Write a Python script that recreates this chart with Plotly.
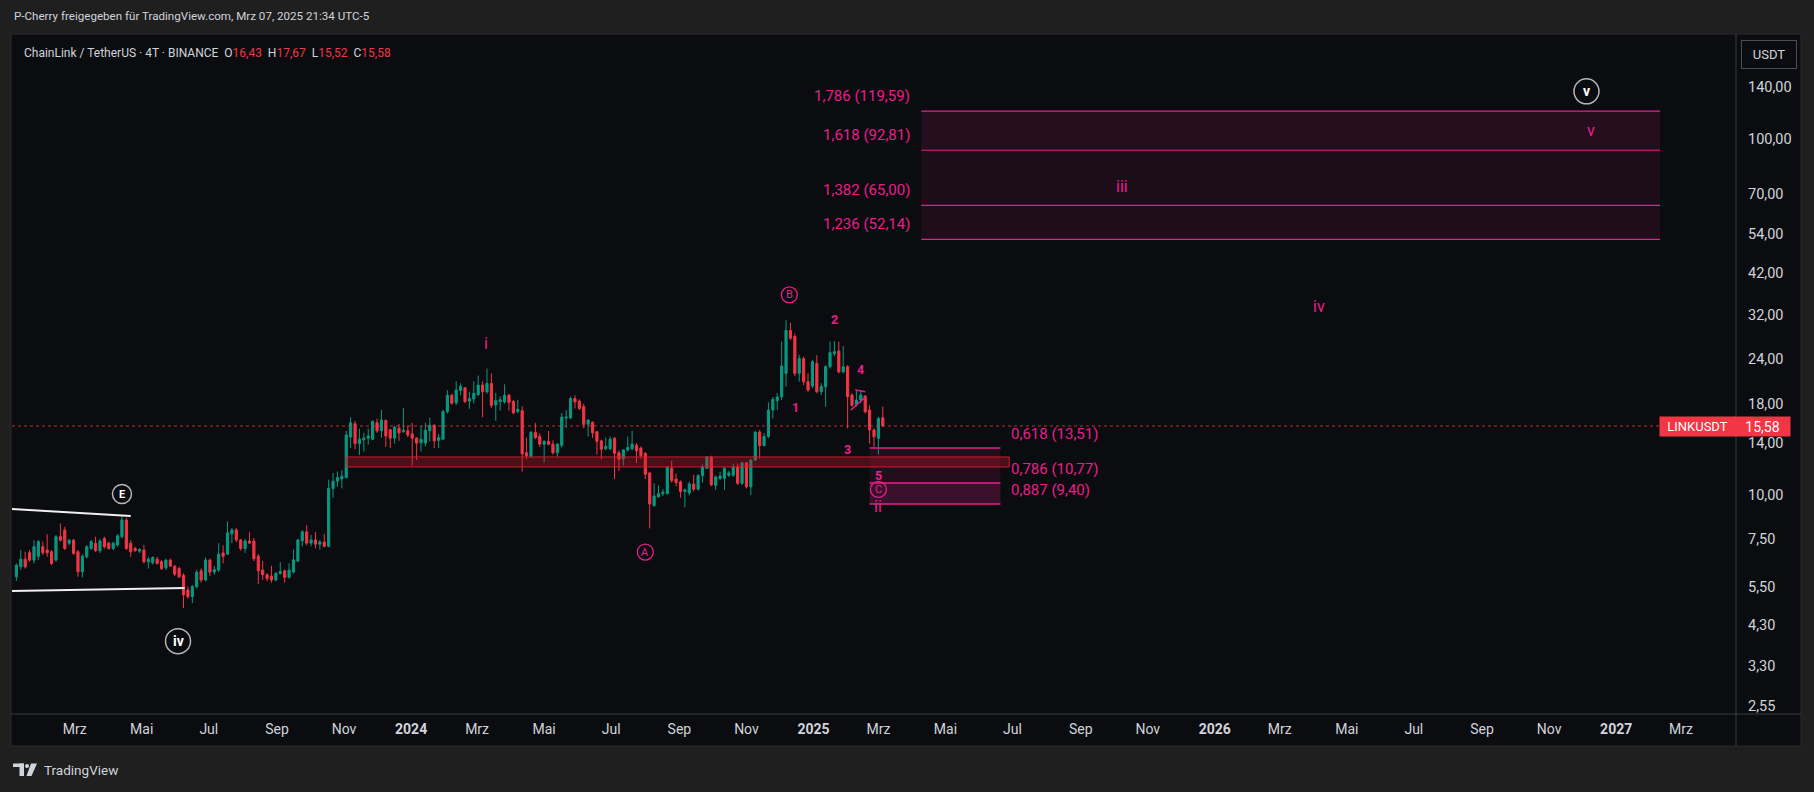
import math
import pandas as pd
import plotly.graph_objects as go

# ---------------- data (4-day candles, LINK/USDT) ----------------
opens = [
    5.87, 6.26, 6.58, 6.86, 6.54, 6.70, 7.13, 6.98, 6.90, 6.54,
    7.61, 7.94, 7.29, 7.44, 6.90, 6.06, 6.68, 7.05, 7.29, 6.95,
    7.52, 7.29, 7.05, 7.21, 7.61, 8.48, 7.29, 7.05, 6.93, 6.98,
    6.47, 6.43, 6.58, 6.47, 6.22, 6.54, 6.29, 6.19, 5.93, 5.39,
    5.16, 5.50, 6.10, 5.75, 6.54, 6.05, 6.13, 6.85, 6.80, 7.75,
    7.95, 7.45, 7.05, 7.40, 7.40, 6.70, 6.13, 5.95, 5.90, 5.75,
    6.00, 6.10, 5.85, 6.05, 6.50, 7.40, 7.85, 7.30, 7.45, 7.25,
    7.35, 7.15, 10.40, 10.90, 11.05, 11.15, 14.50, 15.80, 13.90, 14.25,
    14.40, 14.30, 15.90, 15.10, 16.15, 15.20, 14.40, 15.35, 15.00, 15.10,
    14.80, 14.40, 13.98, 13.95, 15.10, 15.65, 14.20, 14.30, 17.10, 19.00,
    18.10, 19.60, 19.95, 18.30, 18.55, 19.10, 20.30, 19.45, 20.50, 17.85,
    18.25, 18.20, 19.00, 18.25, 17.10, 17.20, 13.10, 12.80, 14.95, 14.55,
    13.85, 14.10, 13.85, 13.10, 13.75, 16.40, 16.40, 18.60, 18.30, 17.65,
    15.75, 15.95, 15.00, 14.15, 13.45, 13.45, 14.40, 13.10, 12.60, 13.34,
    13.45, 13.75, 13.50, 13.05, 11.50, 9.30, 9.85, 10.05, 10.05, 11.85,
    11.05, 10.85, 10.20, 10.10, 10.70, 10.35, 11.30, 11.85, 12.75, 10.60,
    11.10, 11.10, 11.33, 11.33, 11.96, 10.75, 12.27, 10.51, 12.50, 14.98,
    13.72, 14.55, 17.27, 18.35, 18.80, 21.90, 28.90, 27.80, 21.90, 24.10,
    20.75, 20.17, 23.35, 19.45, 20.10, 22.86, 24.85, 25.30, 22.13, 22.86,
    19.03, 17.90, 18.42, 18.90, 17.27, 15.18, 14.38, 16.43,
]
highs = [
    6.40, 6.98, 6.90, 6.98, 7.44, 7.44, 7.37, 7.73, 6.98, 7.69,
    8.29, 8.11, 7.50, 7.50, 6.98, 6.80, 7.20, 7.45, 7.61, 7.50,
    7.61, 7.37, 7.37, 7.73, 8.75, 8.60, 7.44, 7.13, 7.05, 7.21,
    6.68, 6.70, 6.68, 6.54, 6.60, 6.60, 6.33, 6.26, 6.00, 5.51,
    5.56, 6.15, 6.20, 6.65, 6.60, 6.30, 7.30, 7.20, 8.40, 8.05,
    8.05, 7.50, 7.50, 7.85, 7.55, 6.80, 6.50, 6.00, 6.30, 6.05,
    6.45, 6.15, 6.40, 7.00, 7.50, 7.95, 8.20, 7.70, 7.85, 7.45,
    7.75, 11.00, 11.50, 11.60, 11.70, 15.10, 16.50, 16.10, 15.30, 14.90,
    15.30, 16.15, 16.35, 17.30, 16.25, 15.30, 15.60, 15.80, 17.50, 15.65,
    15.90, 14.50, 15.60, 15.90, 16.45, 15.75, 14.80, 17.30, 19.65, 19.20,
    20.80, 20.55, 20.05, 19.45, 20.80, 21.60, 20.80, 22.60, 21.90, 19.30,
    18.90, 20.40, 19.20, 18.45, 18.45, 17.70, 14.45, 15.10, 15.90, 14.85,
    14.20, 15.10, 14.20, 13.95, 16.95, 17.27, 18.85, 19.00, 18.50, 18.00,
    16.25, 16.05, 15.10, 14.25, 14.45, 14.55, 14.50, 13.30, 13.40, 14.55,
    15.10, 13.95, 13.65, 13.15, 11.55, 10.75, 10.60, 10.35, 12.00, 12.45,
    11.45, 10.95, 10.40, 10.85, 11.35, 11.40, 12.15, 12.80, 12.85, 11.30,
    11.57, 11.96, 11.65, 12.22, 12.22, 12.35, 12.35, 12.55, 15.05, 15.18,
    14.88, 18.15, 18.80, 19.30, 26.90, 30.90, 30.40, 28.30, 24.70, 24.40,
    21.90, 23.87, 24.65, 20.55, 23.10, 26.90, 27.00, 26.90, 26.14, 23.10,
    19.25, 19.66, 19.45, 19.03, 17.82, 15.34, 16.54, 17.67,
]
lows = [
    5.72, 6.13, 6.19, 6.47, 6.40, 6.54, 6.76, 6.68, 6.33, 6.47,
    7.37, 6.98, 7.20, 6.76, 5.87, 5.85, 6.60, 6.98, 6.90, 6.85,
    7.05, 7.00, 6.98, 7.13, 7.52, 6.98, 6.68, 6.90, 6.85, 6.40,
    6.19, 6.35, 6.35, 6.13, 6.13, 6.26, 5.90, 5.82, 4.80, 5.10,
    4.95, 5.45, 5.65, 5.70, 5.90, 5.95, 6.05, 6.40, 6.75, 7.30,
    7.35, 6.95, 6.85, 7.25, 6.50, 5.60, 5.75, 5.70, 5.65, 5.70,
    5.95, 5.65, 5.80, 6.00, 6.45, 7.15, 7.20, 7.15, 7.05, 7.00,
    7.10, 7.10, 9.80, 10.50, 10.40, 11.10, 13.50, 13.40, 12.90, 13.20,
    13.80, 14.25, 14.90, 14.45, 13.60, 13.50, 13.90, 14.15, 14.95, 14.50,
    12.05, 12.50, 13.20, 13.65, 14.10, 13.50, 13.50, 14.25, 16.90, 17.90,
    17.85, 19.00, 18.05, 17.40, 18.00, 18.90, 16.50, 19.20, 17.50, 16.10,
    17.20, 18.00, 17.20, 16.80, 16.90, 11.60, 12.55, 12.70, 14.30, 13.60,
    12.30, 13.75, 12.95, 12.75, 13.55, 15.40, 16.30, 17.45, 17.25, 15.35,
    14.55, 14.40, 12.95, 12.55, 13.30, 13.30, 11.05, 11.65, 12.05, 13.20,
    13.30, 12.25, 12.60, 11.05, 8.03, 9.25, 9.80, 9.90, 10.00, 10.80,
    10.55, 9.80, 9.20, 9.95, 10.20, 10.25, 10.80, 11.78, 10.55, 10.30,
    10.98, 10.29, 11.20, 11.21, 10.63, 10.63, 10.40, 9.96, 12.40, 12.63,
    13.65, 14.40, 16.35, 17.27, 18.42, 20.10, 27.19, 21.50, 20.75, 20.30,
    19.45, 19.90, 19.25, 19.05, 17.63, 22.60, 24.50, 21.90, 21.90, 15.34,
    17.63, 17.63, 18.05, 16.90, 13.90, 13.60, 12.95, 15.52,
]
closes = [
    6.33, 6.58, 6.26, 6.54, 7.13, 7.37, 6.86, 6.86, 6.40, 7.61,
    7.44, 7.05, 7.44, 6.83, 6.06, 6.70, 7.13, 7.37, 6.95, 7.40,
    7.13, 7.05, 7.29, 7.65, 8.48, 7.05, 6.90, 6.95, 7.01, 6.47,
    6.58, 6.65, 6.40, 6.19, 6.54, 6.29, 5.97, 5.87, 5.22, 5.16,
    5.51, 6.05, 5.75, 6.54, 6.05, 6.15, 6.80, 6.70, 7.80, 7.95,
    7.45, 7.05, 7.40, 7.30, 6.60, 6.10, 5.95, 5.80, 5.75, 6.00,
    6.07, 5.85, 6.13, 6.55, 7.45, 7.85, 7.30, 7.45, 7.25, 7.35,
    7.15, 10.40, 10.90, 11.15, 11.25, 14.70, 15.90, 13.90, 14.30, 14.40,
    14.60, 16.05, 15.10, 16.19, 14.60, 14.40, 15.45, 14.90, 15.15, 14.70,
    14.40, 13.95, 14.30, 15.15, 15.65, 14.15, 14.45, 17.10, 19.00, 18.05,
    19.65, 20.15, 18.25, 18.60, 19.25, 20.30, 19.45, 20.50, 17.80, 18.35,
    18.45, 19.00, 18.15, 16.95, 17.35, 13.00, 12.85, 14.95, 14.45, 13.85,
    14.10, 13.85, 13.10, 13.85, 16.50, 16.50, 18.60, 18.20, 17.45, 15.75,
    16.19, 14.90, 14.10, 13.40, 13.65, 14.30, 13.05, 12.55, 13.34, 13.55,
    13.85, 13.25, 12.85, 11.40, 9.40, 9.90, 10.05, 10.15, 11.95, 10.95,
    10.80, 10.20, 10.30, 10.70, 10.35, 11.30, 11.95, 12.75, 10.65, 11.20,
    11.26, 11.84, 11.49, 11.96, 10.75, 12.27, 10.51, 12.50, 14.98, 13.72,
    14.55, 17.27, 18.50, 18.80, 22.96, 28.90, 27.50, 21.90, 24.10, 20.75,
    19.66, 23.60, 19.45, 20.10, 22.86, 25.05, 25.20, 22.13, 22.86, 18.82,
    17.82, 18.42, 19.03, 17.08, 15.18, 14.53, 16.36, 15.58,
]
last_candle_date = "2025-03-05"

# Fibonacci extension (targets) and retracement levels
ext_ratios = ["1,786", "1,618", "1,382", "1,236"]
ext_prices = [119.59, 92.81, 65.00, 52.14]
ext_span = ["2025-04-09", "2027-02-10"]
ext_label_date = "2025-04-01"

ret_ratios = ["0,618", "0,786", "0,887"]
ret_prices = [13.51, 10.77, 9.40]
ret_span = ["2025-02-21", "2025-06-20"]
ret_label_date = "2025-06-28"

# support zone
zone_span = ["2023-11-03", "2025-06-28"]
zone_prices = [11.95, 12.75]

# white triangle boundary lines
tri_upper_dates = ["2023-01-03", "2023-04-21"]
tri_upper_prices = [9.10, 8.70]
tri_lower_dates = ["2023-01-03", "2023-06-09"]
tri_lower_prices = [5.35, 5.46]

# small pink triangle near wave 4
small_tri_a_dates = ["2025-02-04", "2025-02-17"]
small_tri_a_prices = [17.28, 18.76]
small_tri_b_dates = ["2025-02-08", "2025-02-17"]
small_tri_b_prices = [19.66, 19.45]

# wave labels (plain, pink)
wave_text = ["i", "iii", "iv", "v", "1", "2", "3", "4", "5", "ii"]
wave_dates = ["2024-03-09", "2025-10-09", "2026-04-06", "2026-12-09", "2024-12-16",
              "2025-01-20", "2025-02-01", "2025-02-13", "2025-03-01", "2025-03-01"]
wave_prices = [26.5, 73.5, 33.7, 105.3, 17.58, 31.1, 13.42, 22.5, 11.31, 9.23]

# circled labels
pink_circ_text = ["A", "B", "C"]
pink_circ_dates = ["2024-08-01", "2024-12-10", "2025-03-01"]
pink_circ_prices = [6.89, 36.4, 10.33]
white_circ_text = ["E", "iv", "v"]
white_circ_dates = ["2023-04-13", "2023-06-03", "2026-12-05"]
white_circ_prices = [10.03, 3.87, 135.9]

# axes
price_ticks = [2.55, 3.3, 4.3, 5.5, 7.5, 10, 14, 18, 24, 32, 42, 54, 70, 100, 140]
time_tick_dates = ["2023-03-01", "2023-05-01", "2023-07-01", "2023-09-01", "2023-11-01",
                   "2024-01-01", "2024-03-01", "2024-05-01", "2024-07-01", "2024-09-01", "2024-11-01",
                   "2025-01-01", "2025-03-01", "2025-05-01", "2025-07-01", "2025-09-01", "2025-11-01",
                   "2026-01-01", "2026-03-01", "2026-05-01", "2026-07-01", "2026-09-01", "2026-11-01",
                   "2027-01-01", "2027-03-01"]
time_tick_labels = ["Mrz", "Mai", "Jul", "Sep", "Nov",
                    "2024", "Mrz", "Mai", "Jul", "Sep", "Nov",
                    "2025", "Mrz", "Mai", "Jul", "Sep", "Nov",
                    "2026", "Mrz", "Mai", "Jul", "Sep", "Nov",
                    "2027", "Mrz"]
x_range = ["2023-01-03", "2027-04-20"]
y_range_prices = [2.415, 195.7]

# ---------------- styling ----------------
UP = "#089981"
DOWN = "#f23645"
PINK = "#e91e8c"
TXT = "#d1d4dc"
PANEL = "#0b0c0f"
OUTER = "#1f1f1f"
SEP = "#2a2b30"
FONT = "Roboto"

W, H = 1814, 792
ML, MR, MT, MB = 12, 78, 35, 78
PW, PH = W - ML - MR, H - MT - MB


def px_x(x):
    return (x - ML) / PW


def px_y(y):
    return (H - MB - y) / PH


def fmt(v):
    return f"{v:.2f}".replace(".", ",")


candle_dates = pd.date_range(end=last_candle_date, periods=len(closes), freq="4D")

fig = go.Figure()


def band(xs, y0, y1, color, line_color=None, line_width=0):
    fig.add_trace(go.Scatter(
        x=[xs[0], xs[1], xs[1], xs[0], xs[0]], y=[y0, y0, y1, y1, y0],
        mode="lines", fill="toself", fillcolor=color,
        line=dict(width=line_width, color=line_color or "rgba(0,0,0,0)"),
        hoverinfo="skip", showlegend=False))


def seg(xs, ys, color, width=1, dash="solid"):
    fig.add_trace(go.Scatter(x=xs, y=ys, mode="lines",
                             line=dict(color=color, width=width, dash=dash),
                             hoverinfo="skip", showlegend=False))


# fib extension bands
ext_fill = ["rgba(233,30,140,0.13)", "rgba(233,30,140,0.08)", "rgba(233,30,140,0.09)"]
for k in range(len(ext_prices) - 1):
    band(ext_span, ext_prices[k], ext_prices[k + 1], ext_fill[k])
# retracement bands
ret_fill = ["rgba(233,30,140,0.10)", "rgba(233,30,140,0.22)"]
for k in range(len(ret_prices) - 1):
    band(ret_span, ret_prices[k], ret_prices[k + 1], ret_fill[k])

# candles
fig.add_trace(go.Candlestick(
    x=candle_dates, open=opens, high=highs, low=lows, close=closes,
    increasing=dict(line=dict(color=UP, width=1), fillcolor=UP),
    decreasing=dict(line=dict(color=DOWN, width=1), fillcolor=DOWN),
    whiskerwidth=0, hoverinfo="skip", showlegend=False))

# support zone
band(zone_span, zone_prices[0], zone_prices[1], "rgba(200,25,40,0.33)",
     line_color="rgba(215,30,45,0.95)", line_width=1)

# fib lines
for p in ext_prices:
    seg(ext_span, [p, p], PINK, 1.2)
for p in ret_prices:
    seg(ret_span, [p, p], PINK, 1.6)

# current price dotted line
seg([x_range[0], "2027-02-10"], [closes[-1], closes[-1]], "rgba(242,54,69,0.8)", 1, "dot")

# white triangle lines
seg(tri_upper_dates, tri_upper_prices, "#f0f0f0", 2)
seg(tri_lower_dates, tri_lower_prices, "#f0f0f0", 2)
# small pink triangle
seg(small_tri_a_dates, small_tri_a_prices, PINK, 1.5)
seg(small_tri_b_dates, small_tri_b_prices, PINK, 1.5)

# circles for circled labels
fig.add_trace(go.Scatter(
    x=pink_circ_dates, y=pink_circ_prices, mode="markers",
    marker=dict(symbol="circle-open", size=16, color=PINK, line=dict(width=1.3, color=PINK)),
    hoverinfo="skip", showlegend=False))
fig.add_trace(go.Scatter(
    x=white_circ_dates, y=white_circ_prices, mode="markers",
    marker=dict(symbol="circle-open", size=[19, 25, 25], color="#ffffff",
                line=dict(width=1.5, color="#ffffff")),
    hoverinfo="skip", showlegend=False))

annotations = []
for t, d, p in zip(wave_text, wave_dates, wave_prices):
    is_num = t.isdigit()
    annotations.append(dict(
        x=d, y=math.log10(p), xref="x", yref="y", text=f"<b>{t}</b>" if is_num else t,
        showarrow=False, font=dict(family=FONT, size=12.5 if is_num else 16, color=PINK)))
for t, d, p in zip(pink_circ_text, pink_circ_dates, pink_circ_prices):
    annotations.append(dict(x=d, y=math.log10(p), xref="x", yref="y", text=t, showarrow=False,
                            font=dict(family=FONT, size=11, color=PINK)))
for t, d, p, s in zip(white_circ_text, white_circ_dates, white_circ_prices, [11, 14, 14]):
    annotations.append(dict(x=d, y=math.log10(p), xref="x", yref="y", text=f"<b>{t}</b>",
                            showarrow=False, font=dict(family=FONT, size=s, color="#ffffff")))

# fib labels
for r, p in zip(ext_ratios, ext_prices):
    annotations.append(dict(x=ext_label_date, y=math.log10(p), xref="x", yref="y",
                            text=f"{r} ({fmt(p)})", showarrow=False, xanchor="right",
                            yshift=15, font=dict(family=FONT, size=15, color=PINK)))
for r, p in zip(ret_ratios, ret_prices):
    annotations.append(dict(x=ret_label_date, y=math.log10(p), xref="x", yref="y",
                            text=f"{r} ({fmt(p)})", showarrow=False, xanchor="left",
                            yshift=14, font=dict(family=FONT, size=15, color=PINK)))

# header / legend / footer texts
annotations.append(dict(
    x=px_x(12), y=px_y(16), xref="paper", yref="paper", xanchor="left", yanchor="middle",
    text="P-Cherry freigegeben für TradingView.com, Mrz 07, 2025 21:34 UTC-5",
    showarrow=False, font=dict(family=FONT, size=11.6, color=TXT)))
nb = "\u00a0"
legend_txt = (f"ChainLink / TetherUS · 4T · BINANCE{nb}{nb}"
              f"O<span style='color:{DOWN}'>{fmt(opens[-1])}</span>{nb}{nb}"
              f"H<span style='color:{DOWN}'>{fmt(highs[-1])}</span>{nb}{nb}"
              f"L<span style='color:{DOWN}'>{fmt(lows[-1])}</span>{nb}{nb}"
              f"C<span style='color:{DOWN}'>{fmt(closes[-1])}</span>")
annotations.append(dict(
    x=px_x(22), y=px_y(53), xref="paper", yref="paper", xanchor="left", yanchor="middle",
    text=legend_txt, showarrow=False, font=dict(family=FONT, size=12, color=TXT)))
annotations.append(dict(
    x=px_x(42), y=px_y(770), xref="paper", yref="paper", xanchor="left", yanchor="middle",
    text="TradingView", showarrow=False, font=dict(family=FONT, size=13.5, color=TXT)))
# USDT box
annotations.append(dict(
    x=px_x(1769), y=px_y(54.5), xref="paper", yref="paper", xanchor="center", yanchor="middle",
    text="USDT", showarrow=False, width=52, height=25, bordercolor="#4a4d57", borderwidth=1,
    borderpad=1, bgcolor=PANEL, font=dict(family=FONT, size=13, color=TXT)))
# last price labels
annotations.append(dict(
    x=px_x(1697.5), y=px_y(427), xref="paper", yref="paper", xanchor="center", yanchor="middle",
    text="LINKUSDT", showarrow=False, width=73, height=17, bgcolor=DOWN,
    font=dict(family=FONT, size=13, color="#ffffff")))
annotations.append(dict(
    x=px_x(1762.5), y=px_y(427), xref="paper", yref="paper", xanchor="center", yanchor="middle",
    text=fmt(closes[-1]), showarrow=False, width=53, height=17, bgcolor=DOWN,
    font=dict(family=FONT, size=14, color="#ffffff")))

shapes = [
    # chart panel
    dict(type="rect", xref="paper", yref="paper", x0=px_x(11), x1=px_x(1801), y0=px_y(746),
         y1=px_y(34), fillcolor=PANEL, line=dict(color=SEP, width=1), layer="below"),
    # time axis separator
    dict(type="line", xref="paper", yref="paper", x0=px_x(11), x1=px_x(1801), y0=px_y(714),
         y1=px_y(714), line=dict(color="#3a3b40", width=1), layer="above"),
    # price axis separator
    dict(type="line", xref="paper", yref="paper", x0=px_x(1736), x1=px_x(1736), y0=px_y(746),
         y1=px_y(34), line=dict(color="#3a3b40", width=1), layer="above"),
    # TradingView logo (approx.)
    dict(type="rect", xref="paper", yref="paper", x0=px_x(13), x1=px_x(24), y0=px_y(767),
         y1=px_y(763.5), fillcolor=TXT, line=dict(width=0)),
    dict(type="rect", xref="paper", yref="paper", x0=px_x(19.5), x1=px_x(24), y0=px_y(776),
         y1=px_y(763.5), fillcolor=TXT, line=dict(width=0)),
    dict(type="circle", xref="paper", yref="paper", x0=px_x(25), x1=px_x(29), y0=px_y(768),
         y1=px_y(764), fillcolor=TXT, line=dict(width=0)),
    dict(type="path", xref="paper", yref="paper",
         path=f"M {px_x(31)} {px_y(763.5)} L {px_x(37)} {px_y(763.5)} L {px_x(31.5)} {px_y(776)} "
              f"L {px_x(26.5)} {px_y(776)} Z",
         fillcolor=TXT, line=dict(width=0)),
]

ticktext_x = [f"<b>{t}</b>" if t.isdigit() else t for t in time_tick_labels]

fig.update_layout(
    width=W, height=H,
    margin=dict(l=ML, r=MR, t=MT, b=MB, pad=0),
    paper_bgcolor=OUTER, plot_bgcolor=PANEL,
    showlegend=False, hovermode=False,
    font=dict(family=FONT, color=TXT),
    annotations=annotations, shapes=shapes,
    xaxis=dict(type="date", range=x_range, tickmode="array", tickvals=time_tick_dates,
               ticktext=ticktext_x, tickfont=dict(family=FONT, size=14, color=TXT),
               showgrid=False, zeroline=False, showline=False, ticks="",
               rangeslider=dict(visible=False), ticklabelstandoff=5, fixedrange=True),
    yaxis=dict(type="log", side="right",
               range=[math.log10(y_range_prices[0]), math.log10(y_range_prices[1])],
               tickmode="array", tickvals=price_ticks, ticktext=[fmt(v) for v in price_ticks],
               tickfont=dict(family=FONT, size=14.5, color=TXT), showgrid=False, zeroline=False,
               showline=False, ticks="", ticklabelstandoff=11, fixedrange=True),
)

fig.write_html(
    "out.html",
    config={"displayModeBar": False, "staticPlot": True},
    post_script=("document.body.style.margin='0';document.body.style.padding='0';"
                 "document.body.style.overflow='hidden';"
                 "document.body.style.background='" + OUTER + "';"),
)
